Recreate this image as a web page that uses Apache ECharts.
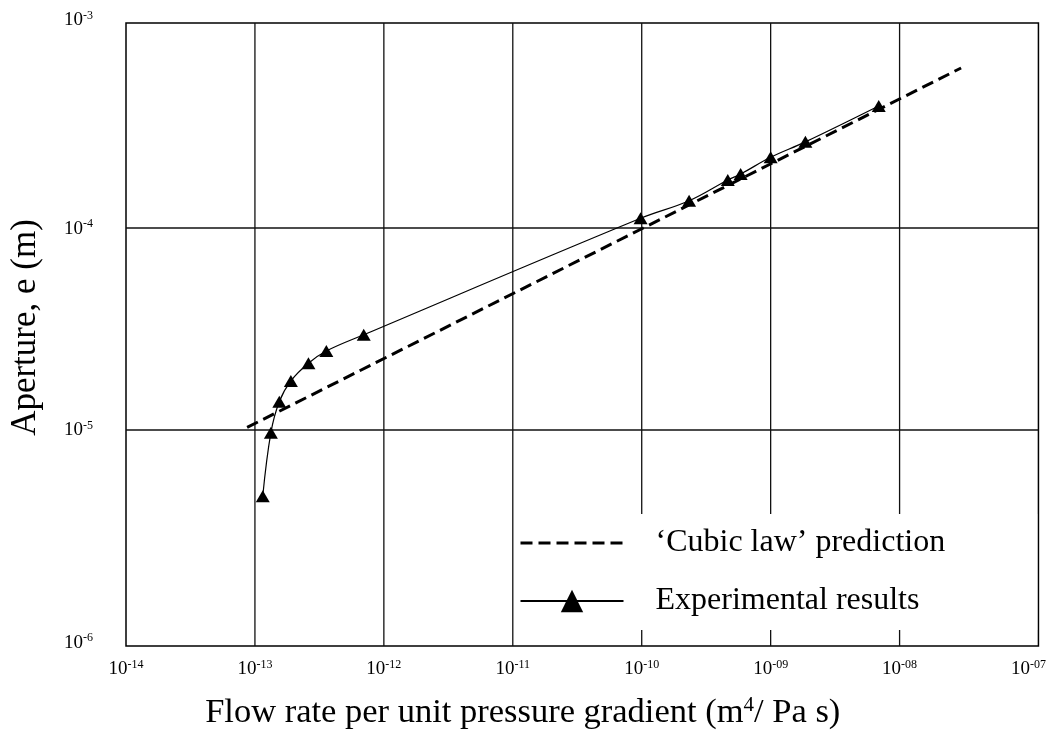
<!DOCTYPE html>
<html><head><meta charset="utf-8">
<script src="https://cdn.jsdelivr.net/npm/echarts@6/dist/echarts.min.js"></script>
<style>html,body{margin:0;padding:0;background:#fff}#c{width:1049px;height:744px}</style>
</head><body><div id="c"></div>
<script>
const xTickExps = [-14, -13, -12, -11, -10, -9, -8, -7];
const xTickLabels = ['-14', '-13', '-12', '-11', '-10', '-09', '-08', '-07'];
const yTickExps = [-6, -5, -4, -3];
const yTickLabels = ['-6', '-5', '-4', '-3'];
const xGridValues = [1e-13, 1e-12, 1e-11, 1e-10, 1e-9, 1e-8];
const yGridValues = [1e-5, 1e-4];
const cubicFlow = [8.7e-14, 3.0e-8];
const cubicAperture = [1.03e-5, 6.2e-4];
const expFlow = [1.15e-13, 1.33e-13, 1.545e-13, 1.90e-13, 2.60e-13, 3.58e-13, 6.98e-13, 9.8e-11, 2.33e-10, 4.65e-10, 5.85e-10, 1.0e-9, 1.86e-9, 6.89e-9];
const expAperture = [4.7e-6, 9.7e-6, 1.38e-5, 1.75e-5, 2.14e-5, 2.46e-5, 2.96e-5, 1.117e-4, 1.365e-4, 1.73e-4, 1.85e-4, 2.24e-4, 2.67e-4, 4.02e-4];
const cubicName = '\u2018Cubic law\u2019 prediction';
const expName = 'Experimental results';

const X_MIN = 1e-14, X_MAX = Math.pow(10, -6.923);
const Y_MIN = Math.pow(10, -6.0693), Y_MAX = Math.pow(10, -2.985);

const FONT = 'Liberation Serif';
function tickFmt(exps, labels, lowShift, highShift) {
  return function (v) {
    const l = Math.log10(v);
    const e = Math.round(l);
    if (Math.abs(l - e) > 0.01) return '';
    const i = exps.indexOf(e);
    if (i < 0) return '';
    if (lowShift && i === 0) return '{gl| }{bl|10}{sl|' + labels[i] + '}';
    if (highShift && i === exps.length - 1) return '{gh| }{bh|10}{sh|' + labels[i] + '}';
    return '{b|10}{s|' + labels[i] + '}';
  };
}
const tb = { fontFamily: FONT, fontSize: 19, color: '#000' };
const ts = { fontFamily: FONT, fontSize: 12, color: '#000' };
const tickRich = {
  b: Object.assign({ lineHeight: 20, verticalAlign: 'bottom' }, tb),
  s: Object.assign({ lineHeight: 10, verticalAlign: 'top' }, ts),
  gl: { fontSize: 1, lineHeight: 42 },
  bl: Object.assign({ lineHeight: 20, verticalAlign: 'bottom' }, tb),
  sl: Object.assign({ lineHeight: 30, height: 30, verticalAlign: 'bottom' }, ts),
  gh: { fontSize: 1, lineHeight: 32 },
  bh: Object.assign({ lineHeight: 20, verticalAlign: 'top' }, tb),
  sh: Object.assign({ lineHeight: 10, verticalAlign: 'top' }, ts)
};

const gridStyle = { color: '#111', width: 1.3, type: 'solid' };
const gridSeries = xGridValues.map(v => ({
  type: 'line', z: 1, silent: true, symbol: 'none', lineStyle: gridStyle,
  data: [[v, Y_MIN], [v, Y_MAX]]
})).concat(yGridValues.map(v => ({
  type: 'line', z: 1, silent: true, symbol: 'none', lineStyle: gridStyle,
  data: [[X_MIN, v], [X_MAX, v]]
})));

const chart = echarts.init(document.getElementById('c'), null, { renderer: 'canvas' });
chart.setOption({
  animation: false,
  backgroundColor: '#fff',
  textStyle: { fontFamily: FONT, color: '#000' },
  grid: { left: 125, right: 5, top: 23, bottom: 98, show: true, borderColor: '#000', borderWidth: 1.5, backgroundColor: 'transparent' },
  xAxis: {
    type: 'log', logBase: 10, min: X_MIN, max: X_MAX,
    splitLine: { show: false }, axisLine: { show: false }, axisTick: { show: false },
    axisLabel: { showMaxLabel: false, margin: 13, formatter: tickFmt(xTickExps, xTickLabels, false, false), rich: tickRich },
    name: 'Flow rate per unit pressure gradient (m{sup|4}/ Pa s)',
    nameLocation: 'middle', nameGap: 49,
    nameTextStyle: { fontFamily: FONT, fontSize: 34.5, color: '#000', padding: [0, 119, 0, 0],
      rich: { sup: { fontFamily: FONT, fontSize: 21, color: '#000', verticalAlign: 'top', lineHeight: 14 } } }
  },
  yAxis: {
    type: 'log', logBase: 10, min: Y_MIN, max: Y_MAX,
    splitLine: { show: false }, axisLine: { show: false }, axisTick: { show: false },
    axisLabel: { showMaxLabel: false, showMinLabel: false, margin: 33, formatter: tickFmt(yTickExps, yTickLabels, true, true), rich: tickRich },
    name: 'Aperture, e (m)', nameLocation: 'middle', nameGap: 83,
    nameTextStyle: { fontFamily: FONT, fontSize: 35, color: '#000', padding: [0, 0, 0, 14] }
  },
  legend: {
    data: [
      { name: cubicName, itemStyle: { opacity: 0 }, lineStyle: { color: '#000', width: 3, type: [12, 6] } },
      { name: expName }
    ],
    orient: 'vertical', left: 516, top: 514,
    itemWidth: 103, itemHeight: 28, itemGap: 26,
    backgroundColor: '#fff', padding: [13, 92, 13, 3],
    selectedMode: false,
    textStyle: { fontFamily: FONT, fontSize: 32, color: '#000', lineHeight: 28, padding: [0, 0, 0, 27] }
  },
  series: gridSeries.concat([
    {
      name: cubicName, type: 'line', z: 2,
      data: cubicFlow.map((x, i) => [x, cubicAperture[i]]),
      symbol: 'none',
      lineStyle: { color: '#000', width: 3, type: [12, 6] },
      itemStyle: { color: '#000', opacity: 0 }
    },
    {
      name: expName, type: 'line', z: 3,
      data: expFlow.map((x, i) => [x, expAperture[i]]),
      smooth: 0.4,
      symbol: 'triangle', symbolSize: [14, 12],
      lineStyle: { color: '#000', width: 1.2 },
      itemStyle: { color: '#000' }
    }
  ])
});
</script>
</body></html>
